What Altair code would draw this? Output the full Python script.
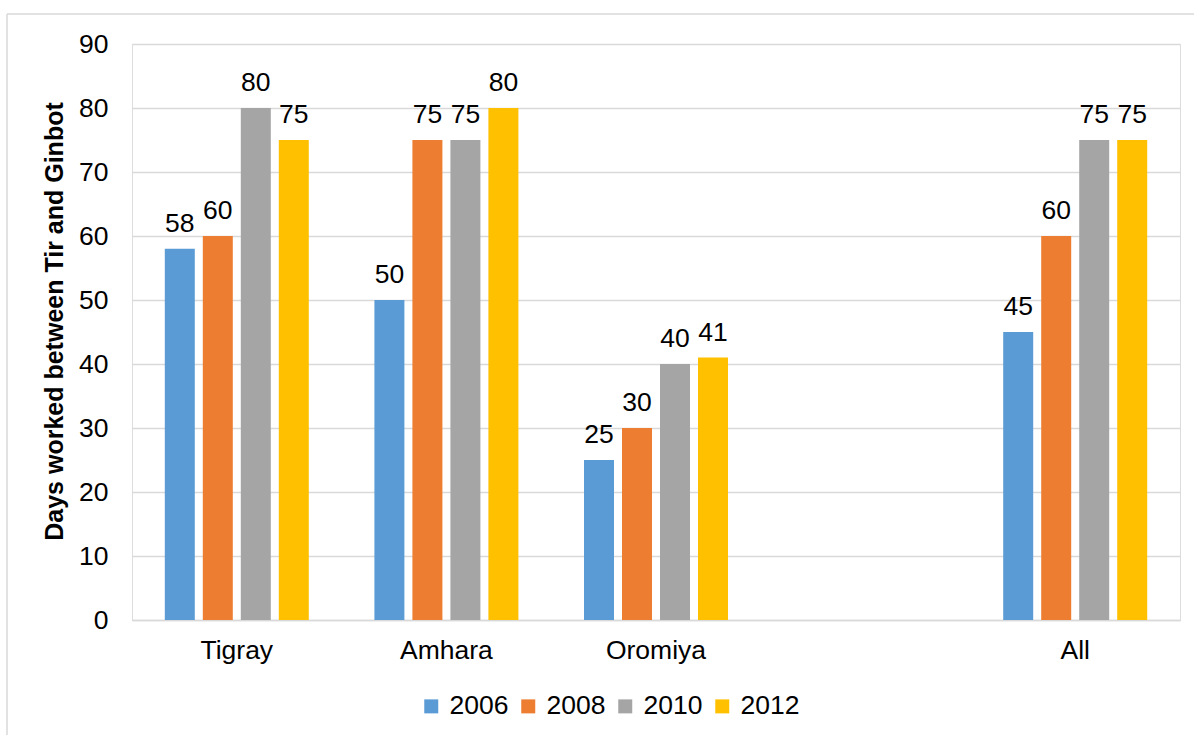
import altair as alt
import pandas as pd

regions = ["Tigray", "Amhara", "Oromiya", "All"]
years = ["2006", "2008", "2010", "2012"]
v2006 = [58, 50, 25, 45]
v2008 = [60, 75, 30, 60]
v2010 = [80, 75, 40, 75]
v2012 = [75, 80, 41, 75]
colors = ["#5B9BD5", "#ED7D31", "#A5A5A5", "#FFC000"]
x_domain = ["Tigray", "Amhara", "Oromiya", " ", "All"]
y_ticks = [0, 10, 20, 30, 40, 50, 60, 70, 80, 90]

rows = []
for yr, vals in zip(years, [v2006, v2008, v2010, v2012]):
    for r, v in zip(regions, vals):
        rows.append({"region": r, "year": yr, "days": v})
df = pd.DataFrame(rows)

FONT = "Liberation Sans"
FS = 26.5

x_enc = alt.X(
    "region:N",
    scale=alt.Scale(domain=x_domain, paddingInner=0.313, paddingOuter=0.1565),
    axis=alt.Axis(
        title=None, labelAngle=0, ticks=False, domainColor="#D9D9D9", domainWidth=1.5,
        labelFontSize=FS, labelColor="#000000", labelFont=FONT, labelPadding=17, grid=False,
    ),
)
xo_enc = alt.XOffset(
    "year:N", scale=alt.Scale(domain=years, paddingInner=0.2105, paddingOuter=0)
)
y_enc = alt.Y(
    "days:Q",
    scale=alt.Scale(domain=[0, 90], nice=False),
    axis=alt.Axis(
        values=y_ticks, title="Days worked between Tir and Ginbot",
        titleFontSize=25, titleFontWeight="bold", titleFont=FONT, titleColor="#000000",
        titlePadding=11, titleY=277, labelFontSize=FS, labelFont=FONT, labelColor="#000000",
        labelPadding=24, ticks=False, domain=False, gridColor="#D9D9D9", gridWidth=1.3,
    ),
)

bars = alt.Chart(df).mark_bar().encode(
    x=x_enc,
    xOffset=xo_enc,
    y=y_enc,
    color=alt.Color(
        "year:N",
        scale=alt.Scale(domain=years, range=colors),
        legend=alt.Legend(
            title=None, orient="none", direction="horizontal", legendX=286, legendY=649,
            symbolType="square", symbolSize=196, symbolStrokeWidth=0, labelFontSize=FS,
            labelFont=FONT, labelColor="#000000", columnPadding=6, labelOffset=5, padding=0,
        ),
    ),
)

labels = alt.Chart(df).mark_text(
    baseline="alphabetic", dy=-17, fontSize=FS, font=FONT, color="#000000"
).encode(
    x=alt.X("region:N", scale=alt.Scale(domain=x_domain)),
    xOffset=alt.XOffset("year:N", scale=alt.Scale(domain=years)),
    y=alt.Y("days:Q"),
    text=alt.Text("days:Q"),
)

frame_data = alt.Data(values=[{"k": 1}])
frame_left = alt.Chart(frame_data).mark_rule(color="#D9D9D9", strokeWidth=1.5).encode(
    x=alt.value(-125), y=alt.value(-30), y2=alt.value(720)
)
frame_top = alt.Chart(frame_data).mark_rule(color="#D9D9D9", strokeWidth=1.5).encode(
    x=alt.value(-125), x2=alt.value(1100), y=alt.value(-30)
)

chart = alt.layer(bars, labels, frame_left, frame_top).properties(
    width=1048,
    height=576,
    autosize=alt.AutoSizeParams(type="none"),
    padding={"left": 132, "top": 44, "right": 14, "bottom": 115},
).configure_view(stroke=None).configure(font=FONT)

chart.save("out.html", embed_options={"renderer": "svg", "actions": False})
